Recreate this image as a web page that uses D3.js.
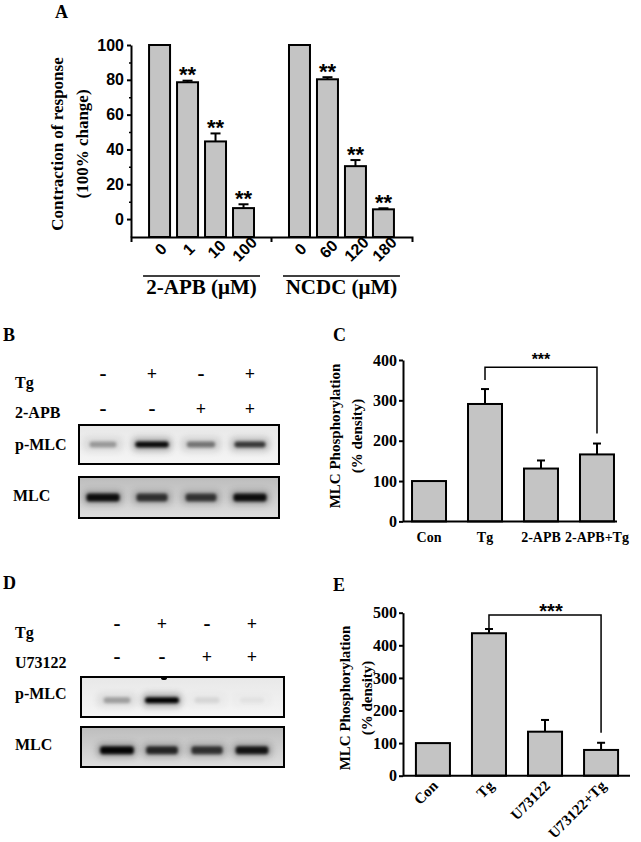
<!DOCTYPE html>
<html>
<head>
<meta charset="utf-8">
<script src="https://cdn.jsdelivr.net/npm/d3@7"></script>
<style>
body { margin: 0; background: #fff; }
svg { display: block; }
</style>
</head>
<body>
<svg width="641" height="842"></svg>
<script>
// ---- panel A : contraction
var dosesAPB = ["0", "1", "10", "100"];
var dosesNCDC = ["0", "60", "120", "180"];
var contractionAPB = [100, 78.6, 44.6, 6.3];
var errorAPB = [0, 0.9, 4.6, 2.2];
var contractionNCDC = [100, 80.3, 30.4, 5.6];
var errorNCDC = [0, 1.2, 3.5, 0.6];
var starsA = ["", "**", "**", "**"];
var ticksA = [0, 20, 40, 60, 80, 100];
var minorTicksA = [10, 30, 50, 70, 90];

// ---- panel C : MLC phosphorylation, 2-APB
var groupsC = ["Con", "Tg", "2-APB", "2-APB+Tg"];
var densityC = [100, 291, 131, 166];
var errorC = [0, 37, 20, 27];
var ticksC = [0, 100, 200, 300, 400];

// ---- panel E : MLC phosphorylation, U73122
var groupsE = ["Con", "Tg", "U73122", "U73122+Tg"];
var densityE = [100, 437, 135, 79];
var errorE = [0, 13, 36, 22];
var ticksE = [0, 100, 200, 300, 400, 500];

// ---- blots B and D (band darkness 0..1)
var lanes = [1, 2, 3, 4];
var tgB = ["-", "+", "-", "+"];
var apbB = ["-", "-", "+", "+"];
var pmlcB = [0.3, 0.95, 0.45, 0.72];
var mlcB = [0.92, 0.72, 0.7, 0.92];
var tgD = ["-", "+", "-", "+"];
var u73122D = ["-", "-", "+", "+"];
var pmlcD = [0.28, 1, 0.08, 0.04];
var mlcD = [0.97, 0.78, 0.72, 0.88];

var SERIF = '"Liberation Serif","Times New Roman",serif';
var SANS = '"Liberation Sans",Arial,sans-serif';
var BAR = "#c4c4c4";

var svg = d3.select("svg");

var defs = svg.append("defs");
defs.append("filter").attr("id", "blur").attr("x", "-50%").attr("y", "-100%")
    .attr("width", "200%").attr("height", "300%")
    .append("feGaussianBlur").attr("stdDeviation", 1.4);
defs.append("filter").attr("id", "blurWide").attr("x", "-50%").attr("y", "-100%")
    .attr("width", "200%").attr("height", "300%")
    .append("feGaussianBlur").attr("stdDeviation", 3);
var grad = defs.append("linearGradient").attr("id", "mlcBg")
    .attr("x1", 0).attr("y1", 0).attr("x2", 0).attr("y2", 1);
grad.append("stop").attr("offset", "0%").attr("stop-color", "#bdbdbd");
grad.append("stop").attr("offset", "100%").attr("stop-color", "#dedede");
var grad2 = defs.append("linearGradient").attr("id", "pBg")
    .attr("x1", 0).attr("y1", 0).attr("x2", 0).attr("y2", 1);
grad2.append("stop").attr("offset", "0%").attr("stop-color", "#e8e8e8");
grad2.append("stop").attr("offset", "100%").attr("stop-color", "#f5f5f5");

var styleAxis = function(sel, font, size)
{
    sel.select(".domain").attr("stroke", "#000").attr("stroke-width", 2);
    sel.selectAll(".tick line").attr("stroke", "#000").attr("stroke-width", 2);
    sel.selectAll(".tick text")
        .attr("font-family", font)
        .attr("font-weight", "bold")
        .attr("font-size", size)
        .attr("fill", "#000");
}

var panelLetter = function(letter, x, y)
{
    svg.append("text").text(letter)
        .attr("x", x).attr("y", y)
        .attr("font-family", SERIF).attr("font-weight", "bold")
        .attr("font-size", 18);
}

var yTitle = function(lines, x, y, size)
{
    lines.forEach(function(line, i) {
        svg.append("text").text(line)
            .attr("text-anchor", "middle")
            .attr("transform", "translate(" + (x + i * size * 1.45) + "," + y + ") rotate(-90)")
            .attr("font-family", SERIF).attr("font-weight", "bold")
            .attr("font-size", size);
    })
}

var drawPanelA = function()
{
    var rows = dosesAPB.map(function(d, i) {
        return {key: "APB" + d, dose: d, value: contractionAPB[i], err: errorAPB[i], star: starsA[i]};
    }).concat(dosesNCDC.map(function(d, i) {
        return {key: "NCDC" + d, dose: d, value: contractionNCDC[i], err: errorNCDC[i], star: starsA[i]};
    }));
    var slots = rows.slice(0, 4).map(function(r) { return r.key; })
        .concat(["gap"])
        .concat(rows.slice(4).map(function(r) { return r.key; }));

    var xScale = d3.scaleBand().domain(slots).range([131, 412])
        .paddingInner(0.25).paddingOuter(0.645);
    var yScale = d3.scaleLinear().domain([-10.3, 100]).range([237, 45]);
    var base = yScale(-10.3);
    var bw = xScale.bandwidth();
    var cx = function(r) { return xScale(r.key) + bw / 2; };

    var g = svg.append("g").attr("id", "panelA");

    g.selectAll(".bar").data(rows).enter().append("rect")
        .attr("class", "bar")
        .attr("x", function(r) { return xScale(r.key); })
        .attr("y", function(r) { return yScale(r.value); })
        .attr("width", bw)
        .attr("height", function(r) { return base - yScale(r.value); })
        .attr("fill", BAR).attr("stroke", "#000").attr("stroke-width", 2);

    var withErr = rows.filter(function(r) { return r.err > 0; });
    g.selectAll(".err").data(withErr).enter().append("line")
        .attr("x1", cx).attr("x2", cx)
        .attr("y1", function(r) { return yScale(r.value); })
        .attr("y2", function(r) { return yScale(r.value + r.err); })
        .attr("stroke", "#000").attr("stroke-width", 2);
    g.selectAll(".cap").data(withErr).enter().append("line")
        .attr("x1", function(r) { return cx(r) - 5; })
        .attr("x2", function(r) { return cx(r) + 5; })
        .attr("y1", function(r) { return yScale(r.value + r.err); })
        .attr("y2", function(r) { return yScale(r.value + r.err); })
        .attr("stroke", "#000").attr("stroke-width", 2);

    g.selectAll(".star").data(rows).enter().append("text")
        .text(function(r) { return r.star; })
        .attr("x", cx)
        .attr("y", function(r) { return yScale(r.value + r.err) + 1.5; })
        .attr("text-anchor", "middle")
        .attr("font-family", SANS).attr("font-weight", "bold").attr("font-size", 22);

    var yAxis = g.append("g").attr("transform", "translate(131,0)")
        .call(d3.axisLeft(yScale).tickValues(ticksA).tickSize(4).tickSizeOuter(0).tickPadding(3));
    styleAxis(yAxis, SANS, 16);
    var yMinor = g.append("g").attr("transform", "translate(131,0)")
        .call(d3.axisLeft(yScale).tickValues(minorTicksA).tickSize(2).tickFormat(""));
    yMinor.select(".domain").remove();
    yMinor.selectAll(".tick line").attr("stroke", "#000").attr("stroke-width", 1.5);

    var xAxis = g.append("g").attr("transform", "translate(0," + base + ")")
        .call(d3.axisBottom(xScale).tickValues(["gap"]).tickFormat("").tickSize(5).tickSizeOuter(5));
    styleAxis(xAxis, SANS, 16);

    g.selectAll(".dose").data(rows).enter().append("text")
        .text(function(r) { return r.dose; })
        .attr("text-anchor", "middle")
        .attr("transform", function(r) {
            return "translate(" + (cx(r) + 5) + "," + (base + 16) + ") rotate(-45)";
        })
        .attr("font-family", SANS).attr("font-weight", "bold").attr("font-size", 16);

    var groups = [
        {name: "2-APB (\u03BCM)", first: rows[0].key, last: rows[3].key},
        {name: "NCDC (\u03BCM)", first: rows[4].key, last: rows[7].key}
    ];
    groups.forEach(function(grp) {
        var x1 = xScale(grp.first) - 6, x2 = xScale(grp.last) + bw + 6;
        g.append("line").attr("x1", x1).attr("x2", x2).attr("y1", 276).attr("y2", 276)
            .attr("stroke", "#000").attr("stroke-width", 1.5);
        g.append("text").text(grp.name)
            .attr("x", (x1 + x2) / 2).attr("y", 294)
            .attr("text-anchor", "middle")
            .attr("font-family", SERIF).attr("font-weight", "bold").attr("font-size", 21);
    });

    panelLetter("A", 55, 18);
    yTitle(["Contraction of response", "(100% change)"], 63, 144, 17);
}

var drawBarPanel = function(p)
{
    var rows = p.groups.map(function(d, i) { return {name: d, value: p.values[i], err: p.errors[i]}; });
    var xScale = d3.scaleBand().domain(p.groups).range(p.xRange)
        .paddingInner(0.393).paddingOuter(p.outer);
    var yScale = d3.scaleLinear().domain([0, d3.max(p.ticks)]).range(p.yRange);
    var bw = xScale.bandwidth();
    var cx = function(name) { return xScale(name) + bw / 2; };
    var g = svg.append("g");

    g.selectAll(".bar").data(rows).enter().append("rect")
        .attr("x", function(r) { return xScale(r.name); })
        .attr("y", function(r) { return yScale(r.value); })
        .attr("width", bw)
        .attr("height", function(r) { return yScale(0) - yScale(r.value); })
        .attr("fill", BAR).attr("stroke", "#000").attr("stroke-width", 2);

    var withErr = rows.filter(function(r) { return r.err > 0; });
    g.selectAll(".err").data(withErr).enter().append("line")
        .attr("x1", function(r) { return cx(r.name); })
        .attr("x2", function(r) { return cx(r.name); })
        .attr("y1", function(r) { return yScale(r.value); })
        .attr("y2", function(r) { return yScale(r.value + r.err); })
        .attr("stroke", "#000").attr("stroke-width", 2);
    g.selectAll(".cap").data(withErr).enter().append("line")
        .attr("x1", function(r) { return cx(r.name) - 4; })
        .attr("x2", function(r) { return cx(r.name) + 4; })
        .attr("y1", function(r) { return yScale(r.value + r.err); })
        .attr("y2", function(r) { return yScale(r.value + r.err); })
        .attr("stroke", "#000").attr("stroke-width", 2);

    var yAxis = g.append("g").attr("transform", "translate(" + p.axisX + ",0)")
        .call(d3.axisLeft(yScale).tickValues(p.ticks).tickSize(4).tickSizeOuter(0).tickPadding(2));
    styleAxis(yAxis, SERIF, 16);

    g.append("line")
        .attr("x1", p.axisX).attr("x2", p.axisEnd)
        .attr("y1", yScale(0)).attr("y2", yScale(0))
        .attr("stroke", "#000").attr("stroke-width", 2);

    if (p.rotate) {
        g.selectAll(".lab").data(rows).enter().append("text")
            .text(function(r) { return r.name; })
            .attr("text-anchor", "end")
            .attr("transform", function(r) {
                return "translate(" + (cx(r.name) + 6) + "," + (yScale(0) + 11) + ") rotate(-45)";
            })
            .attr("font-family", SERIF).attr("font-weight", "bold").attr("font-size", 15);
    } else {
        g.selectAll(".lab").data(rows).enter().append("text")
            .text(function(r) { return r.name; })
            .attr("x", function(r) { return cx(r.name); })
            .attr("y", yScale(0) + 21)
            .attr("text-anchor", "middle")
            .attr("font-family", SERIF).attr("font-weight", "bold").attr("font-size", 14);
    }

    // significance bracket
    var a = rows[p.bracket[0]], b = rows[p.bracket[1]];
    var top = yScale(p.bracketTop);
    var xa = cx(a.name), xb = cx(b.name);
    g.append("path")
        .attr("d", "M" + xa + "," + (yScale(a.value + a.err) - p.gapA) +
                   "V" + top + "H" + xb +
                   "V" + (yScale(b.value + b.err) - p.gapB))
        .attr("fill", "none").attr("stroke", "#000").attr("stroke-width", 1.5);
    g.append("text").text("***")
        .attr("x", (xa + xb) / 2 + p.starDx).attr("y", top + p.starDy)
        .attr("text-anchor", "middle")
        .attr("font-family", SANS).attr("font-weight", "bold").attr("font-size", p.starSize);

    panelLetter(p.letter, p.letterX, p.letterY);
    yTitle(["MLC Phosphorylation", "(% density)"], p.titleX, p.titleY, 15);
}

var drawBlot = function(b)
{
    var g = svg.append("g");
    var laneX = d3.scalePoint().domain(lanes).range(b.laneRange);

    b.signRows.forEach(function(row) {
        g.append("text").text(row.name)
            .attr("x", 15).attr("y", row.labelY)
            .attr("font-family", SERIF).attr("font-weight", "bold").attr("font-size", 16);
        g.selectAll(null).data(row.signs).enter().append("text")
            .text(function(d) { return d; })
            .attr("x", function(d, i) { return laneX(lanes[i]); })
            .attr("y", row.signY)
            .attr("text-anchor", "middle")
            .attr("font-family", SERIF).attr("font-weight", "bold")
            .attr("font-size", function(d) { return d == "-" ? 21 : 18; });
    });

    b.boxes.forEach(function(box) {
        g.append("text").text(box.name)
            .attr("x", box.labelX).attr("y", box.labelY)
            .attr("font-family", SERIF).attr("font-weight", "bold").attr("font-size", 16);
        g.append("rect")
            .attr("x", box.x).attr("y", box.y).attr("width", box.w).attr("height", box.h)
            .attr("fill", box.bg);
        var bandY = box.y + box.h * box.bandPos;
        g.selectAll(null).data(box.bands).enter().append("rect")
            .attr("x", function(d, i) { return laneX(lanes[i]) - 20; })
            .attr("y", bandY - 7)
            .attr("width", 40).attr("height", 14).attr("rx", 5)
            .attr("fill", "#333")
            .attr("opacity", function(d) { return d * 0.35; })
            .attr("filter", "url(#blurWide)");
        g.selectAll(null).data(box.bands).enter().append("rect")
            .attr("x", function(d, i) { return laneX(lanes[i]) - (12 + 5 * d); })
            .attr("y", bandY - box.bandH / 2)
            .attr("width", function(d) { return 24 + 10 * d; })
            .attr("height", box.bandH).attr("rx", 3)
            .attr("fill", "#000")
            .attr("opacity", function(d) { return d; })
            .attr("filter", "url(#blur)");
        if (box.speck) {
            g.append("ellipse")
                .attr("cx", laneX(lanes[box.speck]) + 2).attr("cy", box.y + 1)
                .attr("rx", 3).attr("ry", 2).attr("fill", "#000");
        }
        g.append("rect")
            .attr("x", box.x).attr("y", box.y).attr("width", box.w).attr("height", box.h)
            .attr("fill", "none").attr("stroke", "#000").attr("stroke-width", 2);
    });

    panelLetter(b.letter, 3, b.letterY);
}

drawPanelA();

drawBlot({
    letter: "B", letterY: 341,
    laneRange: [103, 250],
    signRows: [
        {name: "Tg", signs: tgB, labelY: 388, signY: 380},
        {name: "2-APB", signs: apbB, labelY: 418, signY: 415}
    ],
    boxes: [
        {name: "p-MLC", labelX: 15, labelY: 450, x: 79, y: 425, w: 200, h: 39,
         bg: "url(#pBg)", bands: pmlcB, bandPos: 0.5, bandH: 6},
        {name: "MLC", labelX: 13, labelY: 501, x: 79, y: 477, w: 200, h: 41,
         bg: "url(#mlcBg)", bands: mlcB, bandPos: 0.5, bandH: 8}
    ]
});

drawBlot({
    letter: "D", letterY: 589,
    laneRange: [117, 252],
    signRows: [
        {name: "Tg", signs: tgD, labelY: 638, signY: 630},
        {name: "U73122", signs: u73122D, labelY: 668, signY: 663}
    ],
    boxes: [
        {name: "p-MLC", labelX: 15, labelY: 699, x: 81, y: 677, w: 203, h: 40,
         bg: "url(#pBg)", bands: pmlcD, bandPos: 0.58, bandH: 6, speck: 1},
        {name: "MLC", labelX: 15, labelY: 750, x: 81, y: 727, w: 203, h: 40,
         bg: "url(#mlcBg)", bands: mlcD, bandPos: 0.58, bandH: 8}
    ]
});

drawBarPanel({
    groups: groupsC, values: densityC, errors: errorC, ticks: ticksC,
    xRange: [409, 617], outer: 0.054,
    yRange: [521.4, 360], axisX: 403, axisEnd: 617,
    rotate: false,
    bracket: [1, 3], bracketTop: 382, gapA: 9, gapB: 10,
    starDx: 0, starDy: -2, starSize: 16,
    letter: "C", letterX: 333, letterY: 341,
    titleX: 340, titleY: 436
});

drawBarPanel({
    groups: groupsE, values: densityE, errors: errorE, ticks: ticksE,
    xRange: [412, 622], outer: 0.07,
    yRange: [775.7, 612.7], axisX: 403, axisEnd: 630,
    rotate: true,
    bracket: [1, 3], bracketTop: 493, gapA: 0, gapB: 10,
    starDx: 6, starDy: 3, starSize: 20,
    letter: "E", letterX: 333, letterY: 591,
    titleX: 350, titleY: 698
});
</script>
</body>
</html>
